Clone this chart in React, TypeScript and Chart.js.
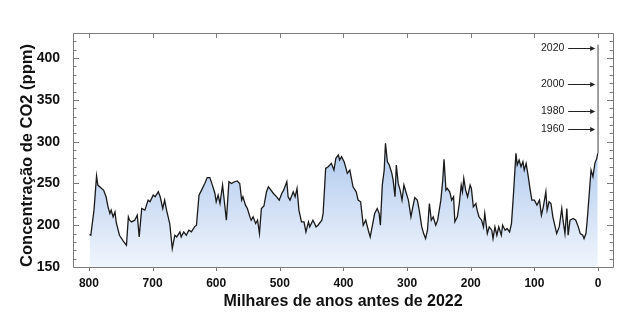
import { useEffect, useRef } from 'react';
import { Chart, registerables } from 'chart.js';

Chart.register(...registerables);

// Age in thousands of years before 2022
const ages = [
  799, 797, 794, 792, 788, 786, 780, 777, 773, 770, 767, 765, 762, 759, 757, 752, 746, 743, 741, 738,
  736, 733, 728, 724, 721, 717, 712, 707, 704, 699, 696, 691, 688, 684, 681, 678, 673, 669, 665, 662,
  657, 655, 651, 647, 643, 639, 634, 631, 627, 623, 618, 614, 610, 606, 602, 600, 597, 594, 590, 586,
  584, 580, 576, 571, 567, 563, 560, 558, 554, 551, 547, 545, 542, 538, 535, 532, 529, 525, 521, 518,
  516, 510, 505, 501, 497, 494, 489, 487, 484, 479, 476, 473, 470, 466, 462, 459, 455, 453, 448, 443,
  440, 434, 432, 428, 424, 419, 415, 412, 408, 406, 403, 399, 396, 394, 390, 387, 385, 380, 377, 373,
  369, 365, 361, 358, 354, 351, 347, 344, 342, 339, 336, 334, 331, 328, 324, 322, 319, 317, 314, 311,
  308, 305, 302, 298, 294, 291, 288, 284, 281, 277, 274, 271, 268, 265, 262, 259, 255, 252, 247, 244,
  242, 239, 237, 233, 230, 227, 225, 221, 218, 215, 213, 211, 208, 205, 201, 199, 196, 192, 190, 187,
  183, 180, 178, 174, 171, 167, 165, 162, 159, 156, 152, 150, 146, 143, 139, 136, 133, 129, 127, 124,
  121, 118, 116, 113, 110, 107, 104, 100, 96, 92, 89, 86, 82, 80, 77, 74, 71, 68, 65, 61,
  57, 55, 52, 49, 47, 44, 39, 35, 31, 28, 24, 22, 19, 17, 14, 11, 8, 5, 2, 0.5,
];

// CO2 concentration (ppm)
const co2 = [
  189, 188, 206, 218, 259, 248, 244, 242, 234, 222, 214, 218, 210, 216, 203, 188, 181, 178, 176, 210,
  206, 204, 206, 212, 186, 220, 218, 230, 228, 236, 234, 240, 234, 220, 230, 218, 202, 172, 188, 186,
  192, 186, 192, 188, 194, 192, 198, 200, 236, 242, 250, 257, 257, 248, 238, 228, 236, 226, 248, 220,
  206, 252, 250, 252, 253, 250, 230, 234, 224, 220, 210, 206, 210, 202, 206, 190, 220, 223, 240, 246,
  244, 238, 234, 230, 238, 242, 252, 234, 230, 240, 234, 244, 218, 204, 204, 192, 204, 198, 206, 198,
  200, 206, 214, 268, 270, 274, 266, 280, 284, 278, 282, 276, 268, 262, 266, 254, 246, 240, 230, 228,
  200, 206, 194, 186, 202, 214, 220, 214, 200, 248, 266, 298, 276, 272, 262, 254, 234, 272, 250, 242,
  230, 248, 240, 230, 210, 222, 233, 230, 218, 198, 190, 184, 194, 226, 206, 210, 200, 206, 230, 254,
  279, 242, 244, 240, 230, 234, 204, 210, 226, 248, 240, 256, 242, 234, 248, 244, 222, 226, 218, 210,
  206, 198, 214, 190, 198, 194, 184, 198, 188, 198, 188, 200, 194, 196, 192, 202, 236, 286, 272, 278,
  270, 276, 266, 274, 260, 244, 230, 230, 224, 230, 212, 222, 240, 218, 228, 226, 210, 200, 190, 198,
  220, 206, 190, 220, 188, 206, 208, 206, 198, 190, 188, 184, 190, 206, 236, 266, 258, 274, 280, 286,
];

// Modern instrumental rise drawn at age 0
const modernAges = [0, 0];
const modernCo2 = [286, 416];

// Arrow annotations
const markerYears = ['2020', '2000', '1980', '1960'];
const markerCo2 = [412.5, 368.5, 337, 315.5];

const FONT = "'Liberation Sans', Arial, Helvetica, sans-serif";

const framePlugin = {
  id: 'frameTicks',
  afterDatasetsDraw(chart: any) {
    const { ctx, chartArea: a, scales } = chart;
    const xs = scales.x;
    const ys = scales.y;
    ctx.save();
    ctx.strokeStyle = '#7a7a7a';
    ctx.lineWidth = 1;
    ctx.beginPath();
    ctx.rect(Math.round(a.left) + 0.5, Math.round(a.top) + 0.5, Math.round(a.right - a.left), Math.round(a.bottom - a.top));
    ctx.stroke();
    // y ticks (left & right, inside)
    ctx.beginPath();
    for (let v = 160; v < 430; v += 10) {
      const y = Math.round(ys.getPixelForValue(v)) + 0.5;
      const len = v % 50 === 0 ? 6 : 3.5;
      ctx.moveTo(a.left, y);
      ctx.lineTo(a.left + len, y);
      ctx.moveTo(a.right, y);
      ctx.lineTo(a.right - len, y);
    }
    // x ticks top (inside) & bottom (outside)
    for (let v = 0; v <= 800; v += 100) {
      const x = Math.round(xs.getPixelForValue(v)) + 0.5;
      ctx.moveTo(x, a.top);
      ctx.lineTo(x, a.top + 5);
      ctx.moveTo(x, a.bottom);
      ctx.lineTo(x, a.bottom + 4);
    }
    ctx.stroke();

    // annotations
    ctx.strokeStyle = '#222';
    ctx.fillStyle = '#222';
    ctx.font = `10.5px ${FONT}`;
    ctx.textAlign = 'right';
    ctx.textBaseline = 'middle';
    const x0 = xs.getPixelForValue(47);
    const x1 = xs.getPixelForValue(4.5);
    const xt = xs.getPixelForValue(53);
    markerYears.forEach((label, i) => {
      const y = Math.round(ys.getPixelForValue(markerCo2[i])) + 0.5;
      ctx.fillText(label, xt, y);
      ctx.beginPath();
      ctx.moveTo(x0, y);
      ctx.lineTo(x1 - 3, y);
      ctx.stroke();
      ctx.beginPath();
      ctx.moveTo(x1, y);
      ctx.lineTo(x1 - 5, y - 2.5);
      ctx.lineTo(x1 - 5, y + 2.5);
      ctx.closePath();
      ctx.fill();
    });

    // y axis title
    ctx.fillStyle = '#111';
    ctx.font = `bold 16.5px ${FONT}`;
    ctx.textAlign = 'center';
    ctx.textBaseline = 'middle';
    ctx.translate(27, 155.5);
    ctx.rotate(-Math.PI / 2);
    ctx.fillText('Concentração de CO2 (ppm)', 0, 0);
    ctx.restore();
  },
};

export default function App() {
  const ref = useRef<HTMLCanvasElement | null>(null);

  useEffect(() => {
    if (!ref.current) return;
    const chart = new Chart(ref.current, {
      type: 'line',
      data: {
        datasets: [
          {
            data: ages.map((a, i) => ({ x: a, y: co2[i] })),
            borderColor: '#1a1a1a',
            borderWidth: 1.3,
            pointRadius: 0,
            tension: 0,
            fill: 'start',
            backgroundColor: (context: any) => {
              const { chart } = context;
              const area = chart.chartArea;
              if (!area) return 'rgba(190,210,240,0.8)';
              const ys = chart.scales.y;
              const g = chart.ctx.createLinearGradient(0, ys.getPixelForValue(295), 0, area.bottom);
              g.addColorStop(0, 'rgb(176,202,238)');
              g.addColorStop(0.5, 'rgb(208,223,245)');
              g.addColorStop(1, 'rgb(240,245,252)');
              return g;
            },
          },
          {
            data: modernAges.map((a, i) => ({ x: a, y: modernCo2[i] })),
            borderColor: '#8a8a8a',
            borderWidth: 1.6,
            pointRadius: 0,
            fill: false,
          },
        ],
      },
      options: {
        animation: false,
        responsive: true,
        maintainAspectRatio: false,
        layout: { padding: { left: 0, right: 11, top: 33, bottom: 0 } },
        plugins: { legend: { display: false }, tooltip: { enabled: false } },
        scales: {
          x: {
            type: 'linear',
            reverse: true,
            min: -23.5,
            max: 825,
            grid: { display: false },
            border: { display: false },
            ticks: {
              stepSize: 100,
              includeBounds: false,
              padding: 1,
              color: '#111',
              font: { family: FONT, size: 12, weight: 'bold' },
              maxRotation: 0,
            },
            title: {
              display: true,
              text: 'Milhares de anos antes de 2022',
              color: '#111',
              font: { family: FONT, size: 16, weight: 'bold' },
              padding: { top: 0, bottom: 8 },
            },
            afterFit: (s: any) => {
              s.height = 52;
            },
          },
          y: {
            type: 'linear',
            min: 150,
            max: 430,
            grid: { display: false },
            border: { display: false },
            ticks: {
              stepSize: 50,
              includeBounds: false,
              padding: 5,
              color: '#111',
              font: { family: FONT, size: 14, weight: 'bold' },
            },
            afterFit: (s: any) => {
              s.width = 73;
            },
          },
        },
      },
      plugins: [framePlugin],
    } as any);
    return () => chart.destroy();
  }, []);

  return (
    <div style={{ position: 'absolute', left: 0, top: 0, width: 624, height: 319, background: '#fff' }}>
      <canvas ref={ref} />
    </div>
  );
}
